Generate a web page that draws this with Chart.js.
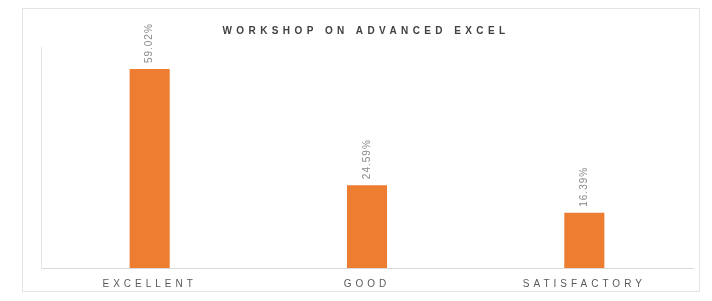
<!DOCTYPE html>
<html><head><meta charset="utf-8">
<script src="https://cdn.jsdelivr.net/npm/chart.js@4.4.0/dist/chart.umd.min.js"></script>
<style>
html,body{margin:0;padding:0;background:#fff;}
#wrap{position:relative;width:712px;height:301px;}
#frame{position:absolute;left:22px;top:8px;width:678px;height:284px;border:1px solid #e4e4e4;box-sizing:border-box;}
canvas{position:absolute;left:0;top:0;}
</style></head>
<body>
<div id="wrap"><div id="frame"></div><canvas id="c" width="712" height="301"></canvas></div>
<script>
const categories = ["EXCELLENT", "GOOD", "SATISFACTORY"];
const values = [36, 15, 10];
const dataLabels = ["59.02%", "24.59%", "16.39%"];
const chartTitle = "WORKSHOP ON ADVANCED EXCEL";

const spacing = {
  id: 'spacing',
  beforeDraw(chart) { chart.ctx.letterSpacing = '4px'; }
};
const titleDraw = {
  id: 'titleDraw',
  afterDraw(chart) {
    const ctx = chart.ctx;
    ctx.save();
    ctx.letterSpacing = '4.4px';
    ctx.font = 'bold 10px "Liberation Sans", Arial, sans-serif';
    ctx.fillStyle = '#404040';
    ctx.textAlign = 'center';
    ctx.textBaseline = 'middle';
    ctx.fillText(chartTitle, 366, 31);
    ctx.restore();
  }
};
const rotLabels = {
  id: 'rotLabels',
  afterDatasetsDraw(chart) {
    const ctx = chart.ctx;
    const meta = chart.getDatasetMeta(0);
    ctx.save();
    ctx.letterSpacing = '1px';
    ctx.font = '10px "Liberation Sans", Arial, sans-serif';
    ctx.fillStyle = '#8a8a8a';
    ctx.textAlign = 'left';
    ctx.textBaseline = 'middle';
    meta.data.forEach((bar, i) => {
      ctx.save();
      ctx.translate(bar.x, bar.y - 6);
      ctx.rotate(-Math.PI / 2);
      ctx.fillText(dataLabels[i], 0, 0);
      ctx.restore();
    });
    ctx.restore();
  }
};

new Chart(document.getElementById('c'), {
  type: 'bar',
  data: {
    labels: categories,
    datasets: [{
      data: values,
      backgroundColor: '#ED7D31',
      barPercentage: 0.9,
      categoryPercentage: 0.205
    }]
  },
  options: {
    responsive: false,
    animation: false,
    devicePixelRatio: 1,
    layout: { padding: { left: 41, right: 19, top: 47, bottom: 1 } },
    plugins: {
      legend: { display: false },
      tooltip: { enabled: false },
      title: { display: false }
    },
    scales: {
      x: {
        grid: { display: false, drawTicks: false },
        border: { color: '#d9d9d9' },
        ticks: {
          color: '#595959',
          font: { family: '"Liberation Sans", Arial, sans-serif', size: 10 },
          padding: 10
        }
      },
      y: {
        min: 0, max: 40,
        grid: { display: false, drawTicks: false },
        border: { color: '#e6e6e6' },
        ticks: { display: false }
      }
    }
  },
  plugins: [spacing, titleDraw, rotLabels]
});
</script>
</body></html>
